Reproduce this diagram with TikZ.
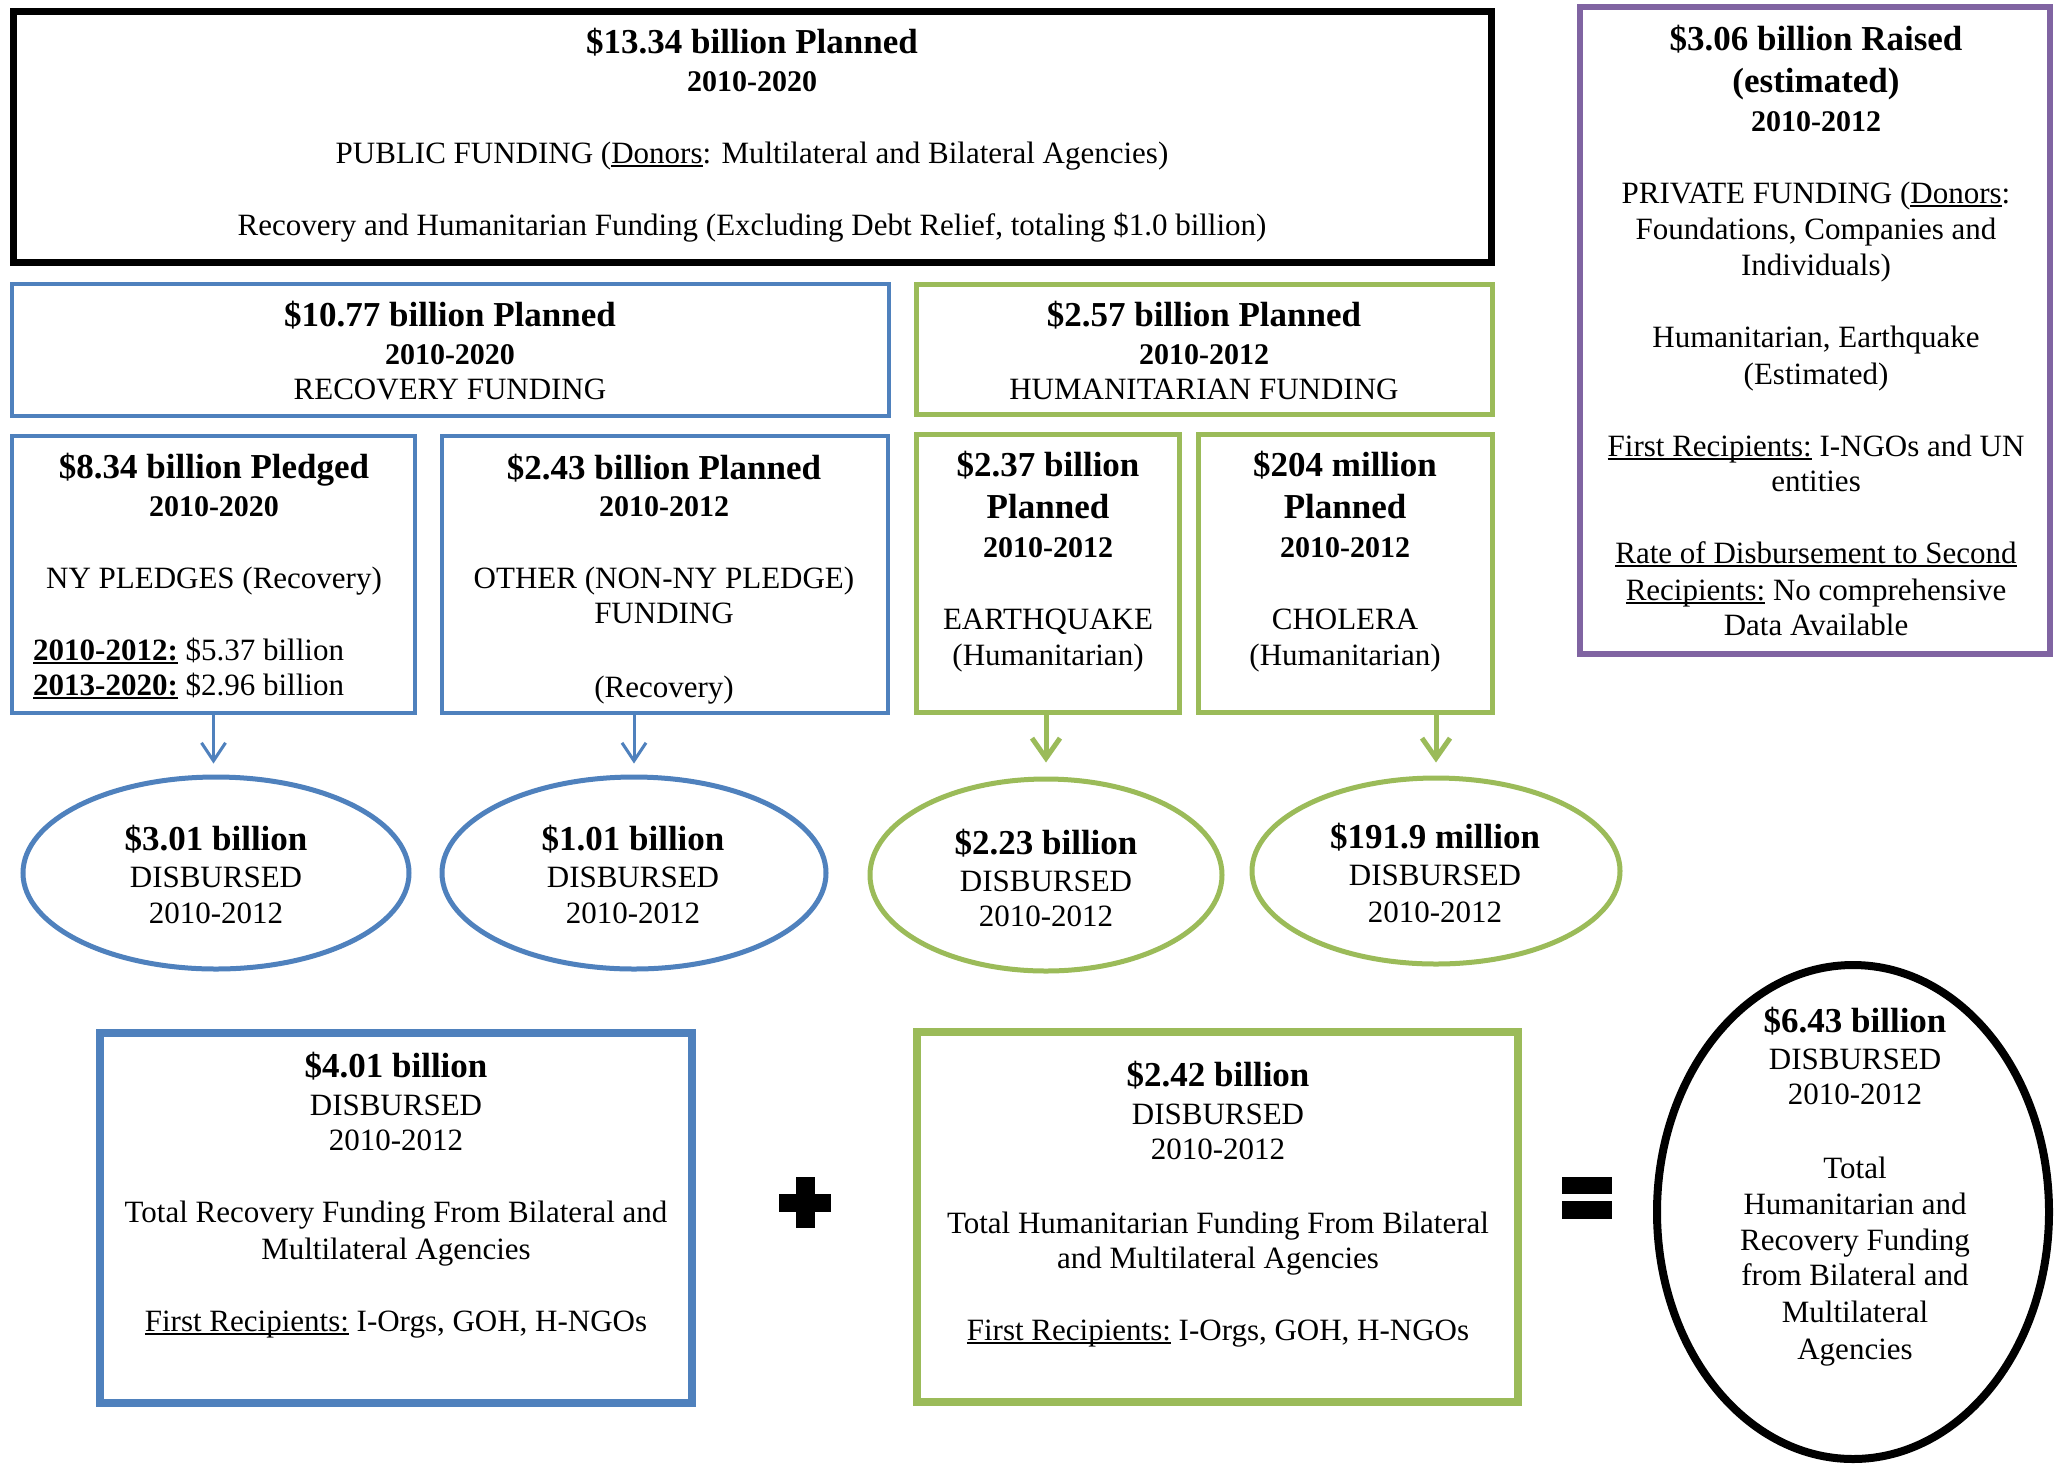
\documentclass[tikz,border=0pt]{standalone}
\usepackage{fontspec}
\setmainfont{Liberation Serif}
\usetikzlibrary{shapes.geometric,arrows.meta}
\definecolor{oblue}{HTML}{4F81BD}
\definecolor{ogreen}{HTML}{9BBB59}
\definecolor{opurple}{HTML}{8064A2}
\newcommand\myul[1]{\setbox0\hbox{#1}\rlap{\rule[-4pt]{\wd0}{1.8pt}}\box0\relax}
\begin{document}
\begin{tikzpicture}[x=1pt,y=-1pt,
  box/.style={draw,rectangle,inner sep=0pt},
  ell/.style={draw,ellipse,inner sep=0pt},
  t/.style={inner sep=0pt,anchor=base,yshift=-10pt,font=\fontsize{31}{36}\selectfont},
  tl/.style={t,anchor=base west},
  tb/.style={inner sep=0pt,anchor=base,yshift=-11pt,font=\fontsize{35}{40}\selectfont\bfseries},
  ty/.style={inner sep=0pt,anchor=base,yshift=-10pt,font=\fontsize{30}{36}\selectfont\bfseries},
  barrow/.style={draw=oblue,line width=3pt,-{Straight Barb[length=18pt,width=24pt,line width=3pt]}},
  garrow/.style={draw=ogreen,line width=5pt,-{Straight Barb[length=20pt,width=28pt,line width=5pt]}}]
\useasboundingbox (0,0) rectangle (2055,1465);
\fill[white] (0,0) rectangle (2055,1465);

% ---- boxes ----
\node[box,line width=7pt,minimum width=1478pt,minimum height=251pt] (top) at (752,136.5) {};
\node[box,draw=opurple,line width=6pt,minimum width=470pt,minimum height=647pt] (priv) at (1815,330.5) {};
\node[box,draw=oblue,line width=4pt,minimum width=877pt,minimum height=132pt] (rec) at (450.5,350) {};
\node[box,draw=ogreen,line width=5pt,minimum width=576pt,minimum height=130pt] (hum) at (1204.5,349.5) {};
\node[box,draw=oblue,line width=4pt,minimum width=403pt,minimum height=277pt] (ny) at (213.5,574.5) {};
\node[box,draw=oblue,line width=4pt,minimum width=446pt,minimum height=277pt] (other) at (665,574.5) {};
\node[box,draw=ogreen,line width=5pt,minimum width=263pt,minimum height=278pt] (eq) at (1048,573.5) {};
\node[box,draw=ogreen,line width=5pt,minimum width=294pt,minimum height=278pt] (chol) at (1345.5,573.5) {};

\node[ell,draw=oblue,line width=5pt,minimum width=386pt,minimum height=192pt] (e1) at (216,873) {};
\node[ell,draw=oblue,line width=5pt,minimum width=384pt,minimum height=192pt] (e2) at (634,873) {};
\node[ell,draw=ogreen,line width=5pt,minimum width=352pt,minimum height=192pt] (e3) at (1046,875) {};
\node[ell,draw=ogreen,line width=5pt,minimum width=368pt,minimum height=186pt] (e4) at (1436,871) {};

\node[box,draw=oblue,line width=8pt,minimum width=592pt,minimum height=370pt] (brec) at (396,1218) {};
\node[box,draw=ogreen,line width=8pt,minimum width=601pt,minimum height=370pt] (bhum) at (1217.5,1217) {};
\node[ell,line width=8pt,minimum width=392pt,minimum height=494pt] (tot) at (1853,1212) {};

% ---- arrows ----
\draw[barrow,shorten >=11pt] (ny.south) -- (ny.south |- e1.north);
\draw[barrow,shorten >=11pt] (e2.north |- other.south) -- (e2.north);
\draw[garrow,shorten >=14pt] (e3.north |- eq.south) -- (e3.north);
\draw[garrow,shorten >=13pt] (e4.north |- chol.south) -- (e4.north);

% ---- plus and equals ----
\fill (795.5,1177) rectangle (814.5,1228);
\fill (779,1194) rectangle (831,1212);
\fill (1562,1177) rectangle (1612,1194);
\fill (1562,1201) rectangle (1612,1219);

% ---- texts: top ----
\node[tb] (top1) at (752,42) {\$13.34 billion Planned};
\node[ty] (top2) at (752,81) {2010-2020};
\node[t] (top3) at (752,153) {PUBLIC FUNDING (\myul{Donors}: Multilateral and Bilateral Agencies)};
\node[t] (top4) at (752,225) {Recovery and Humanitarian Funding (Excluding Debt Relief, totaling \$1.0 billion)};

% ---- private ----
\node[tb] (p1) at (1816,39) {\$3.06 billion Raised};
\node[tb] (p2) at (1816,81) {(estimated)};
\node[ty] (p3) at (1816,121) {2010-2012};
\node[t] (p4) at (1816,193) {PRIVATE FUNDING (\myul{Donors}:};
\node[t] (p5) at (1816,229) {Foundations, Companies and};
\node[t] (p6) at (1816,265) {Individuals)};
\node[t] (p7) at (1816,337) {Humanitarian, Earthquake};
\node[t] (p8) at (1816,374) {(Estimated)};
\node[t] (p9) at (1816,446) {\myul{First Recipients:} I-NGOs and UN};
\node[t] (p10) at (1816,481) {entities};
\node[t] (p11) at (1816,553) {\myul{Rate of Disbursement to Second}};
\node[t] (p12) at (1816,590) {\myul{Recipients:} No comprehensive};
\node[t] (p13) at (1816,625) {Data Available};

% ---- recovery / humanitarian ----
\node[tb] (r1) at (450,315) {\$10.77 billion Planned};
\node[ty] (r2) at (450,354) {2010-2020};
\node[t] (r3) at (450,389) {RECOVERY FUNDING};
\node[tb] (h1) at (1204,315) {\$2.57 billion Planned};
\node[ty] (h2) at (1204,354) {2010-2012};
\node[t] (h3) at (1204,389) {HUMANITARIAN FUNDING};

% ---- NY ----
\node[tb] (n1) at (214,467) {\$8.34 billion Pledged};
\node[ty] (n2) at (214,506) {2010-2020};
\node[t] (n3) at (214,578) {NY PLEDGES (Recovery)};
\node[tl] (n4) at (33,650) {\textbf{\myul{2010-2012:}} \$5.37 billion};
\node[tl] (n5) at (33,685) {\textbf{\myul{2013-2020:}} \$2.96 billion};

% ---- other ----
\node[tb] (o1) at (664,468) {\$2.43 billion Planned};
\node[ty] (o2) at (664,506) {2010-2012};
\node[t] (o3) at (664,578) {OTHER (NON-NY PLEDGE)};
\node[t] (o4) at (664,613) {FUNDING};
\node[t] (o5) at (664,687) {(Recovery)};

% ---- earthquake ----
\node[tb] (q1) at (1048,465) {\$2.37 billion};
\node[tb] (q2) at (1048,507) {Planned};
\node[ty] (q3) at (1048,547) {2010-2012};
\node[t] (q4) at (1048,619) {EARTHQUAKE};
\node[t] (q5) at (1048,655) {(Humanitarian)};

% ---- cholera ----
\node[tb] (c1) at (1345,465) {\$204 million};
\node[tb] (c2) at (1345,507) {Planned};
\node[ty] (c3) at (1345,547) {2010-2012};
\node[t] (c4) at (1345,619) {CHOLERA};
\node[t] (c5) at (1345,655) {(Humanitarian)};

% ---- ellipses ----
\node[tb] (a1) at (216,839) {\$3.01 billion};
\node[t] (a2) at (216,877) {DISBURSED};
\node[t] (a3) at (216,913) {2010-2012};
\node[tb] (b1) at (633,839) {\$1.01 billion};
\node[t] (b2) at (633,877) {DISBURSED};
\node[t] (b3) at (633,913) {2010-2012};
\node[tb] (d1) at (1046,843) {\$2.23 billion};
\node[t] (d2) at (1046,881) {DISBURSED};
\node[t] (d3) at (1046,916) {2010-2012};
\node[tb] (f1) at (1435,837) {\$191.9 million};
\node[t] (f2) at (1435,875) {DISBURSED};
\node[t] (f3) at (1435,912) {2010-2012};

% ---- bottom recovery ----
\node[tb] (br1) at (396,1066) {\$4.01 billion};
\node[t] (br2) at (396,1105) {DISBURSED};
\node[t] (br3) at (396,1140) {2010-2012};
\node[t] (br4) at (396,1212) {Total Recovery Funding From Bilateral and};
\node[t] (br5) at (396,1249) {Multilateral Agencies};
\node[t] (br6) at (396,1321) {\myul{First Recipients:} I-Orgs, GOH, H-NGOs};

% ---- bottom humanitarian ----
\node[tb] (bh1) at (1218,1075) {\$2.42 billion};
\node[t] (bh2) at (1218,1114) {DISBURSED};
\node[t] (bh3) at (1218,1149) {2010-2012};
\node[t] (bh4) at (1218,1223) {Total Humanitarian Funding From Bilateral};
\node[t] (bh5) at (1218,1258) {and Multilateral Agencies};
\node[t] (bh6) at (1218,1330) {\myul{First Recipients:} I-Orgs, GOH, H-NGOs};

% ---- total ----
\node[tb] (g1) at (1855,1021) {\$6.43 billion};
\node[t] (g2) at (1855,1059) {DISBURSED};
\node[t] (g3) at (1855,1094) {2010-2012};
\node[t] (g4) at (1855,1168) {Total};
\node[t] (g5) at (1855,1204) {Humanitarian and};
\node[t] (g6) at (1855,1240) {Recovery Funding};
\node[t] (g7) at (1855,1275) {from Bilateral and};
\node[t] (g8) at (1855,1312) {Multilateral};
\node[t] (g9) at (1855,1349) {Agencies};
\end{tikzpicture}
\end{document}
